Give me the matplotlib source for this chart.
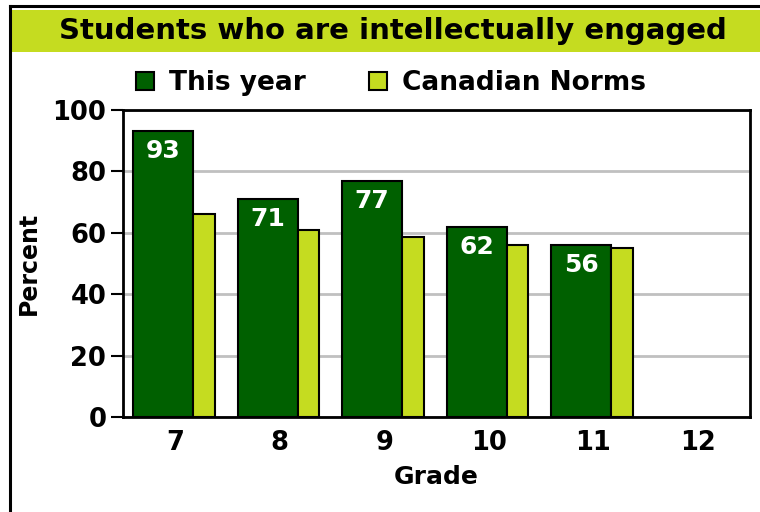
import matplotlib
matplotlib.use('Agg')
import matplotlib.pyplot as plt
from matplotlib.patches import Rectangle
from matplotlib.lines import Line2D
import numpy as np

# Data
grades = ['7', '8', '9', '10', '11', '12']
this_year = [93, 71, 77, 62, 56, None]
canadian_norms = [66, 61, 58.5, 56, 55, None]

dark_green = '#006000'
light_green = '#c5dc20'

fig = plt.figure(figsize=(7.6, 5.12), dpi=100)
fig.patch.set_facecolor('white')

# Outer frame and title banner
fig.add_artist(Line2D([10/760, 1], [1 - 6/512, 1 - 6/512], color='black', lw=2.2,
                      transform=fig.transFigure))
fig.add_artist(Line2D([10/760, 10/760], [0, 1 - 6/512], color='black', lw=2.2,
                      transform=fig.transFigure))
fig.add_artist(Rectangle((11/760, 1 - 52/512), 1, 42/512, transform=fig.transFigure,
                         facecolor=light_green, edgecolor='none'))
fig.text(0.517, 1 - 31/512, 'Students who are intellectually engaged',
         ha='center', va='center', fontsize=21, fontweight='bold',
         family='DejaVu Sans')

ax = fig.add_axes([123/760, 1 - 417/512, 627/760, 307/512])

x = np.arange(len(grades))
ty = np.array([v if v is not None else 0 for v in this_year], dtype=float)
cn = np.array([v if v is not None else 0 for v in canadian_norms], dtype=float)
has = np.array([v is not None for v in this_year])

ax.bar(x[has] - 0.404, ty[has], width=0.574, align='edge', color=dark_green,
       edgecolor='black', linewidth=1.5, zorder=3)
ax.bar(x[has] + 0.170, cn[has], width=0.21, align='edge', color=light_green,
       edgecolor='black', linewidth=1.5, zorder=3)

for xi, v in zip(x[has], ty[has]):
    ax.text(xi - 0.117, v - 6.5, f'{v:.0f}', ha='center', va='center',
            color='white', fontsize=18, fontweight='bold', zorder=4)

ax.set_xlim(-0.5, 5.5)
ax.set_ylim(0, 100)
ax.set_yticks([0, 20, 40, 60, 80, 100])
ax.set_xticks(x)
ax.set_xticklabels(grades)
ax.yaxis.grid(True, color='#c0c0c0', linewidth=2, zorder=0)
ax.set_axisbelow(True)
ax.tick_params(axis='y', direction='out', length=9, width=1.5, labelsize=18.5, pad=3)
ax.tick_params(axis='x', length=0, labelsize=18.5, pad=9)
for lbl in ax.get_xticklabels() + ax.get_yticklabels():
    lbl.set_fontweight('bold')
for sp in ax.spines.values():
    sp.set_linewidth(2)

ax.set_ylabel('Percent', fontsize=17, fontweight='bold', labelpad=8)
ax.set_xlabel('Grade', fontsize=18, fontweight='bold', labelpad=7)

# Legend
handles = [Rectangle((0, 0), 1, 1, facecolor=dark_green, edgecolor='black', lw=1.5),
           Rectangle((0, 0), 1, 1, facecolor=light_green, edgecolor='black', lw=1.5)]
fig.legend(handles, ['This year', 'Canadian Norms'], loc='center',
           bbox_to_anchor=(0.514, 1 - 83/512), ncol=2, frameon=False,
           prop={'size': 19, 'weight': 'bold'}, handlelength=0.7, handleheight=0.7,
           columnspacing=2.4, handletextpad=0.55)

fig.savefig('out.png', dpi=100)
